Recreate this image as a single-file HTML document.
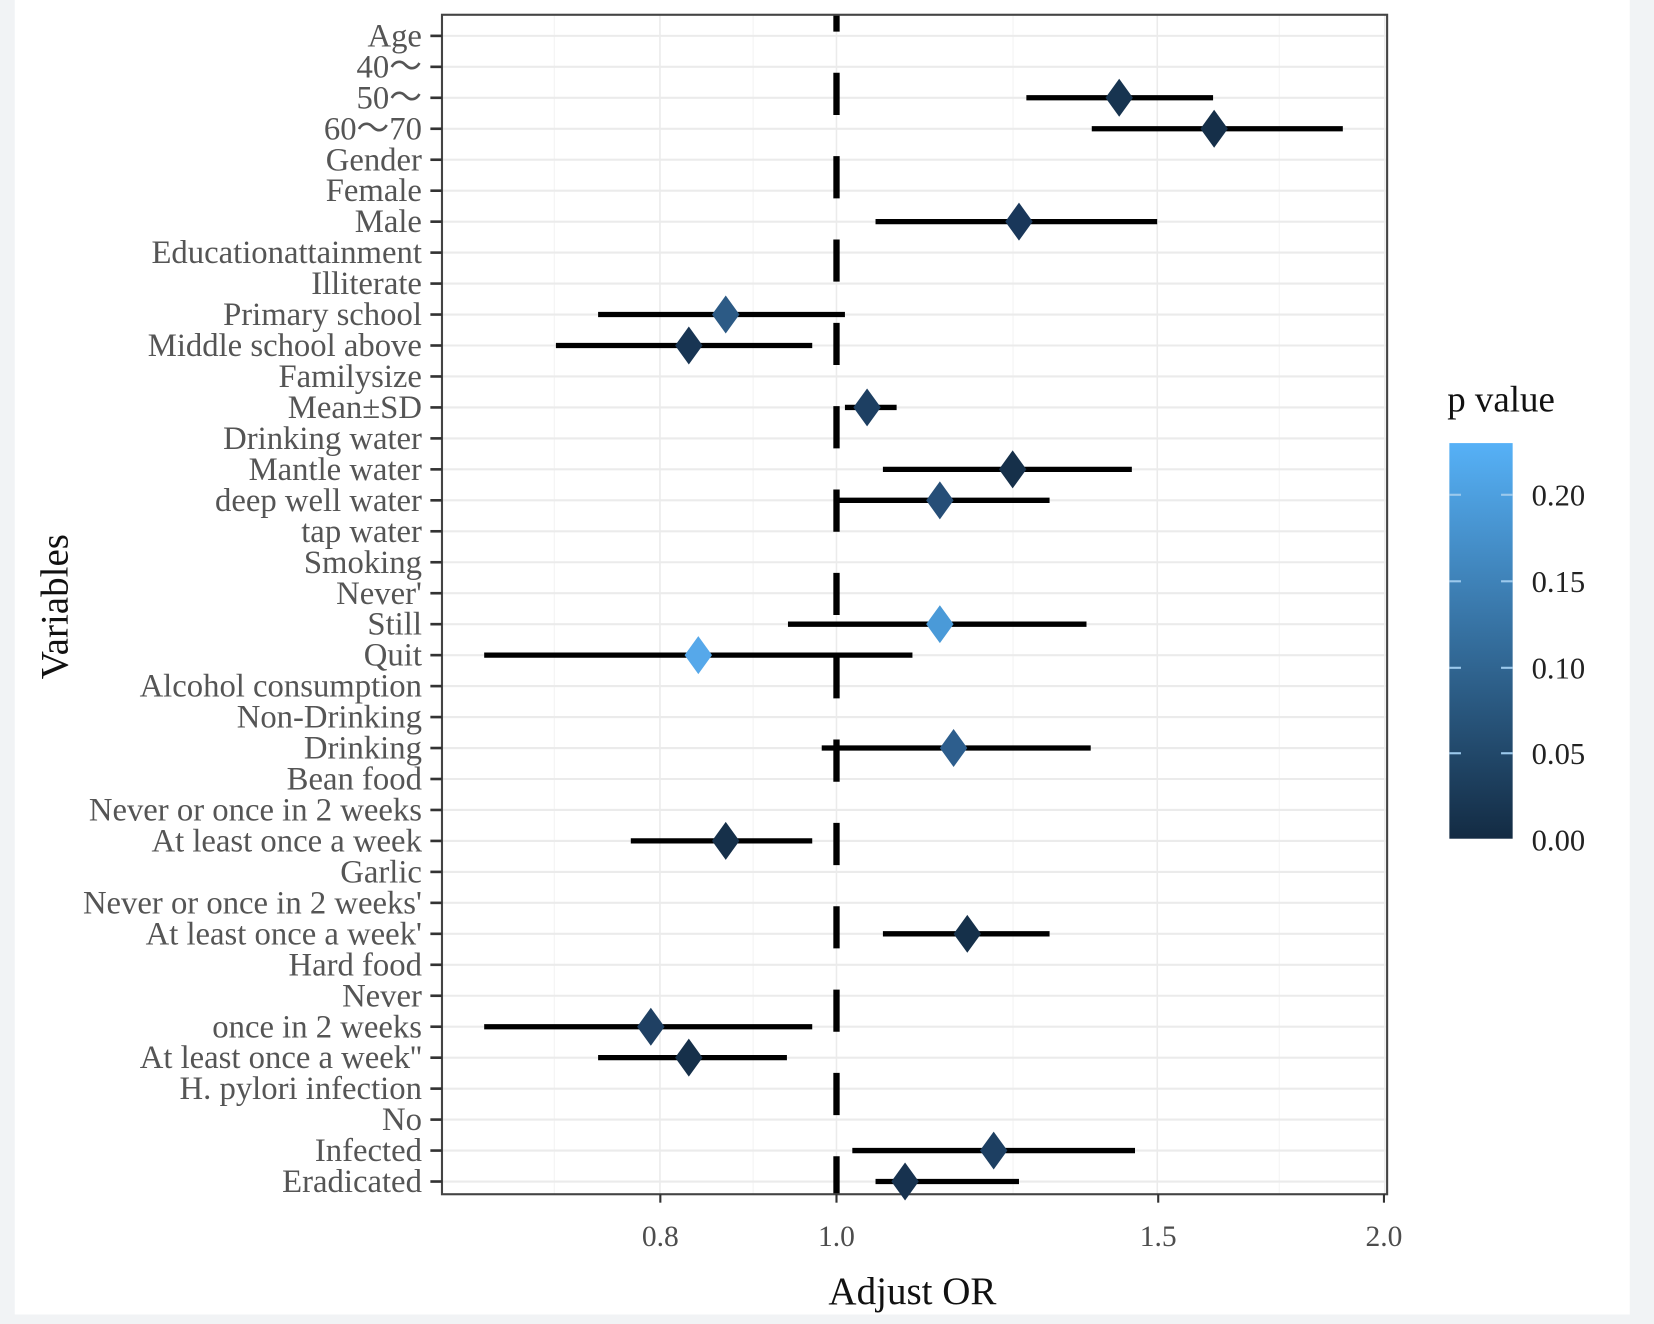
<!DOCTYPE html>
<html><head><meta charset="utf-8"><style>
html,body{margin:0;padding:0;background:#fff;}
svg{display:block;}
text{font-family:"Liberation Serif",serif;}
</style></head><body>
<svg width="1654" height="1324" viewBox="0 0 1568 1255" preserveAspectRatio="none" xmlns="http://www.w3.org/2000/svg">
<defs>
<linearGradient id="g" x1="0" y1="1" x2="0" y2="0">
<stop offset="0" stop-color="#132B43"/>
<stop offset="1" stop-color="#56B1F7"/>
</linearGradient>
</defs>
<rect x="0" y="0" width="1568" height="1255" fill="#fff"/>
<rect x="0" y="0" width="14" height="1255" fill="#f1f3f5"/>
<rect x="1545" y="0" width="23" height="1255" fill="#f1f3f5"/>
<rect x="0" y="1246" width="1568" height="9" fill="#f1f3f5"/>
<g id="grid" stroke="#ebebeb"></g>
<g id="dash"></g>
<rect x="419" y="14" width="896" height="1118" fill="none" stroke="#444" stroke-width="2"/>
<g id="labels" font-size="31" fill="#555" text-anchor="end"></g>
<g id="ticks" stroke="#333" stroke-width="2.5"></g>
<g id="data"></g>
<g font-size="28" fill="#4d4d4d" text-anchor="middle">
<text x="626" y="1181">0.8</text><text x="793" y="1181">1.0</text><text x="1098" y="1181">1.5</text><text x="1312" y="1181">2.0</text>
</g>
<g stroke="#333" stroke-width="2"><line x1="626" y1="1132" x2="626" y2="1140"/><line x1="793" y1="1132" x2="793" y2="1140"/><line x1="1098" y1="1132" x2="1098" y2="1140"/><line x1="1312" y1="1132" x2="1312" y2="1140"/></g>
<text x="865" y="1236" font-size="37" text-anchor="middle" fill="#111">Adjust OR</text>
<text transform="translate(64,575) rotate(-90)" font-size="37" text-anchor="middle" fill="#111">Variables</text>
<text x="1372" y="390" font-size="35" fill="#111">p value</text>
<rect x="1374" y="420" width="60" height="375" fill="url(#g)"/>
<g stroke="#9cc9ec" stroke-width="2">
<line x1="1374" y1="469" x2="1385" y2="469"/><line x1="1423" y1="469" x2="1434" y2="469"/>
<line x1="1374" y1="551" x2="1385" y2="551"/><line x1="1423" y1="551" x2="1434" y2="551"/>
<line x1="1374" y1="633" x2="1385" y2="633"/><line x1="1423" y1="633" x2="1434" y2="633"/>
<line x1="1374" y1="714" x2="1385" y2="714"/><line x1="1423" y1="714" x2="1434" y2="714"/>
</g>
<g font-size="29" fill="#222">
<text x="1452" y="479">0.20</text><text x="1452" y="561">0.15</text><text x="1452" y="643">0.10</text><text x="1452" y="724">0.05</text><text x="1452" y="806">0.00</text>
</g>
</svg>
<script>
var labels=["Age","40～","50～","60～70","Gender","Female","Male","Educationattainment","Illiterate","Primary school","Middle school above","Familysize","Mean±SD","Drinking water","Mantle water","deep well water","tap water","Smoking","Never'","Still","Quit","Alcohol consumption","Non-Drinking","Drinking","Bean food","Never or once in 2 weeks","At least once a week","Garlic","Never or once in 2 weeks'","At least once a week'","Hard food","Never","once in 2 weeks","At least once a week''","H. pylori infection","No","Infected","Eradicated"];
var NS="http://www.w3.org/2000/svg";
function el(t,a,p,txt){var e=document.createElementNS(NS,t);for(var k in a)e.setAttribute(k,a[k]);if(txt)e.textContent=txt;document.getElementById(p).appendChild(e);return e;}
function Y(i){return 34+i*29.35;}
function X(v){return 793+750*Math.log(v);}
[0.7,0.9,1.25,1.75].forEach(function(v){el("line",{x1:X(v),x2:X(v),y1:14,y2:1132,"stroke-width":1,stroke:"#f3f3f3"},"grid");});
[0.8,1,1.5,2].forEach(function(v){el("line",{x1:X(v),x2:X(v),y1:14,y2:1132,"stroke-width":1.5},"grid");});
for(var i=0;i<38;i++){
 el("line",{x1:419,x2:1315,y1:Y(i),y2:Y(i),"stroke-width":2},"grid");
 el("line",{x1:408,x2:419,y1:Y(i),y2:Y(i)},"ticks");
 el("text",{x:400,y:Y(i)+10},"labels",labels[i]);
}
el("line",{x1:793,x2:793,y1:14,y2:1132,stroke:"#000","stroke-width":6,"stroke-dasharray":"40 39","stroke-dashoffset":24},"dash");
var d=[[2,973,1150,1061,"#173450"],[3,1035,1273,1151,"#152f49"],[6,830,1097,966,"#19375a"],[9,567,801,688,"#2c5a85"],[10,527,770,653,"#183553"],[12,801,850,822,"#1d3f62"],[14,837,1073,960,"#16304a"],[15,793,995,891,"#264e77"],[19,747,1030,891,"#4a9ad8"],[20,459,865,662,"#56a8ea"],[23,779,1034,904,"#2d5e8d"],[26,598,770,688,"#16304a"],[29,837,995,917,"#15304a"],[32,459,770,617,"#1f4063"],[33,567,746,653,"#16304a"],[36,808,1076,942,"#1d3f62"],[37,830,966,858,"#17324f"]];
d.forEach(function(r){var y=Y(r[0]);
 el("line",{x1:r[1],x2:r[2],y1:y,y2:y,stroke:"#000","stroke-width":5},"data");
 el("polygon",{points:(r[3]-13)+","+y+" "+r[3]+","+(y-18)+" "+(r[3]+13)+","+y+" "+r[3]+","+(y+18),fill:r[4]},"data");
});
</script>
</body></html>
